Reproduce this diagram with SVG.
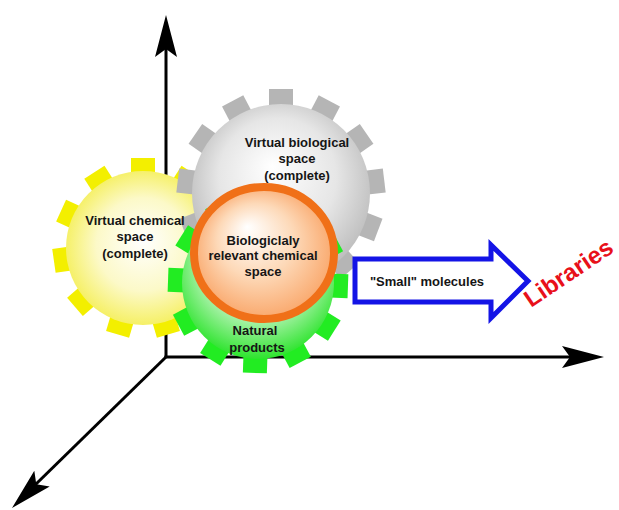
<svg xmlns="http://www.w3.org/2000/svg" xmlns:xlink="http://www.w3.org/1999/xlink" width="619" height="510" viewBox="0 0 619 510">
<style>
.lbl{font-family:"Liberation Sans",Arial,sans-serif;font-weight:bold;font-size:13px;fill:#151515;text-anchor:middle}
.axis{stroke:#000;stroke-width:3;fill:none}
.head{fill:#000}
</style>
<defs>
<radialGradient id="gGray" cx="0.5" cy="0.45" r="0.55" fx="0.45" fy="0.35">
<stop offset="0" stop-color="#ffffff"/><stop offset="0.6" stop-color="#e6e6e6"/><stop offset="1" stop-color="#bdbdbd"/>
</radialGradient>
<radialGradient id="gYel" cx="0.5" cy="0.5" r="0.55" fx="0.5" fy="0.45">
<stop offset="0" stop-color="#ffffff"/><stop offset="0.55" stop-color="#fcf9c8"/><stop offset="1" stop-color="#f4ee50"/>
</radialGradient>
<radialGradient id="gGrn" cx="0.5" cy="0.4" r="0.6" fx="0.5" fy="0.3">
<stop offset="0" stop-color="#ffffff"/><stop offset="0.55" stop-color="#c8f5c8"/><stop offset="1" stop-color="#2ee42e"/>
</radialGradient>
<radialGradient id="gOr" cx="0.5" cy="0.5" r="0.55" fx="0.38" fy="0.3">
<stop offset="0" stop-color="#ffffff"/><stop offset="0.5" stop-color="#fdd9b8"/><stop offset="1" stop-color="#f9a060"/>
</radialGradient>
<rect id="tGray" x="-12" y="-104" width="24" height="20" fill="#b5b5b5"/>
<rect id="tYel" x="-12" y="-90" width="24" height="18" fill="#f3ef00"/>
<rect id="tGrn" x="-12" y="-90" width="24" height="18" fill="#22ec22"/>
<path id="ah" class="head" d="M0,0 L-42,-11 L-34,0 L-42,11 Z"/>
</defs>

<g id="connectors">
<line class="axis" x1="166" y1="357" x2="166" y2="45"/>
<line class="axis" x1="164.5" y1="357" x2="572" y2="357"/>
<line class="axis" x1="166" y1="357" x2="35" y2="485"/>
<use href="#ah" transform="translate(166,15) rotate(-90)"/>
<use href="#ah" transform="translate(604,357)"/>
<use href="#ah" transform="translate(12,508) rotate(135.6)"/>
</g>

<g id="virtual-chemical-space">
<g transform="translate(143,248)">
<use href="#tYel"/><use href="#tYel" transform="rotate(32.7)"/><use href="#tYel" transform="rotate(65.5)"/><use href="#tYel" transform="rotate(98.2)"/><use href="#tYel" transform="rotate(130.9)"/><use href="#tYel" transform="rotate(163.6)"/><use href="#tYel" transform="rotate(196.4)"/><use href="#tYel" transform="rotate(229.1)"/><use href="#tYel" transform="rotate(261.8)"/><use href="#tYel" transform="rotate(294.5)"/><use href="#tYel" transform="rotate(327.3)"/>
<circle r="77" fill="url(#gYel)"/>
</g>
</g>

<g id="virtual-biological-space">
<g transform="translate(281,193)">
<use href="#tGray"/><use href="#tGray" transform="rotate(27.7)"/><use href="#tGray" transform="rotate(55.4)"/><use href="#tGray" transform="rotate(83.1)"/><use href="#tGray" transform="rotate(110.8)"/><use href="#tGray" transform="rotate(138.5)"/><use href="#tGray" transform="rotate(166.2)"/><use href="#tGray" transform="rotate(193.8)"/><use href="#tGray" transform="rotate(221.5)"/><use href="#tGray" transform="rotate(249.2)"/><use href="#tGray" transform="rotate(276.9)"/><use href="#tGray" transform="rotate(304.6)"/><use href="#tGray" transform="rotate(332.3)"/>
<circle r="89" fill="url(#gGray)"/>
</g>
</g>

<g id="natural-products">
<g transform="translate(258,283)">
<use href="#tGrn" transform="rotate(2)"/><use href="#tGrn" transform="rotate(32)"/><use href="#tGrn" transform="rotate(62)"/><use href="#tGrn" transform="rotate(92)"/><use href="#tGrn" transform="rotate(122)"/><use href="#tGrn" transform="rotate(152)"/><use href="#tGrn" transform="rotate(182)"/><use href="#tGrn" transform="rotate(212)"/><use href="#tGrn" transform="rotate(242)"/><use href="#tGrn" transform="rotate(272)"/><use href="#tGrn" transform="rotate(302)"/><use href="#tGrn" transform="rotate(332)"/>
<circle r="76" fill="url(#gGrn)"/>
</g>
</g>

<g id="biologically-relevant-space">
<ellipse cx="264" cy="253" rx="70" ry="66" fill="url(#gOr)" stroke="#f07018" stroke-width="8"/>
</g>

<g id="small-molecules">
<polygon points="355,259 491,259 491,245 528,281 491,318 491,302 355,302" fill="#ffffff" stroke="#1414e6" stroke-width="5" stroke-linejoin="miter"/>
<text class="lbl" x="427" y="286">"Small" molecules</text>
</g>

<g id="labels">
<text class="lbl" x="297" y="147">Virtual biological</text>
<text class="lbl" x="297" y="163">space</text>
<text class="lbl" x="297" y="180">(complete)</text>
<text class="lbl" x="135" y="225">Virtual chemical</text>
<text class="lbl" x="135" y="241">space</text>
<text class="lbl" x="135" y="258">(complete)</text>
<text class="lbl" x="263" y="245">Biologiclaly</text>
<text class="lbl" x="263" y="260">relevant chemical</text>
<text class="lbl" x="263" y="276">space</text>
<text class="lbl" x="255" y="335">Natural</text>
<text class="lbl" x="257" y="352">products</text>
</g>

<g id="libraries">
<text x="0" y="0" transform="translate(531,308) rotate(-34)" style="font-family:'Liberation Sans',Arial,sans-serif;font-weight:bold;font-size:24px;fill:#e8101a">Libraries</text>
</g>
</svg>
